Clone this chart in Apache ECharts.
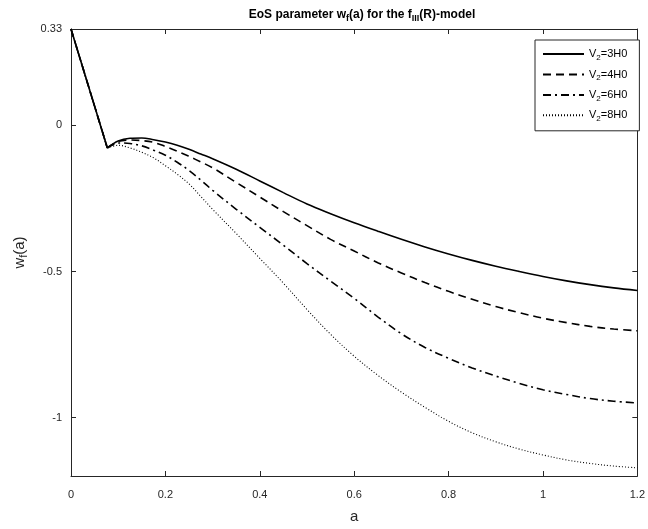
<!DOCTYPE html>
<html>
<head>
<meta charset="utf-8">
<script src="https://cdn.jsdelivr.net/npm/echarts@6/dist/echarts.min.js"></script>
<style>
html,body{margin:0;padding:0;background:#fff;}
#chart{width:648px;height:529px;}
</style>
</head>
<body>
<div id="chart"></div>
<script>
var aValues = [0, 0.077, 0.1, 0.125, 0.15, 0.175, 0.2, 0.225, 0.25, 0.275, 0.3, 0.35, 0.4, 0.45, 0.5, 0.55, 0.6, 0.65, 0.7, 0.75, 0.8, 0.85, 0.9, 0.95, 1.0, 1.05, 1.1, 1.15, 1.2];
var w3H0 = [0.33, -0.077, -0.053, -0.044, -0.043, -0.049, -0.057, -0.068, -0.082, -0.098, -0.114, -0.15, -0.19, -0.23, -0.269, -0.302, -0.333, -0.362, -0.39, -0.416, -0.44, -0.462, -0.482, -0.5, -0.517, -0.532, -0.545, -0.556, -0.565];
var w4H0 = [0.33, -0.077, -0.055, -0.05, -0.052, -0.058, -0.072, -0.088, -0.106, -0.125, -0.145, -0.195, -0.245, -0.295, -0.343, -0.39, -0.43, -0.47, -0.505, -0.538, -0.568, -0.595, -0.62, -0.641, -0.66, -0.675, -0.688, -0.697, -0.703];
var w6H0 = [0.33, -0.077, -0.06, -0.062, -0.07, -0.085, -0.102, -0.126, -0.154, -0.187, -0.222, -0.287, -0.349, -0.41, -0.473, -0.533, -0.592, -0.655, -0.713, -0.76, -0.797, -0.83, -0.858, -0.883, -0.905, -0.921, -0.935, -0.944, -0.95];
var w8H0 = [0.33, -0.077, -0.068, -0.077, -0.092, -0.111, -0.138, -0.167, -0.2, -0.243, -0.287, -0.37, -0.455, -0.54, -0.63, -0.715, -0.79, -0.855, -0.913, -0.965, -1.013, -1.052, -1.083, -1.108, -1.128, -1.145, -1.157, -1.166, -1.172];
var seriesNames = ['V2=3H0', 'V2=4H0', 'V2=6H0', 'V2=8H0'];
var xTicks = [0, 0.2, 0.4, 0.6, 0.8, 1, 1.2];
var yTicks = [0.33, 0, -0.5, -1];

function pairs(ys, from, to){
  var out = [];
  for (var i = from; i < to; i++) out.push([aValues[i], ys[i]]);
  return out;
}

var chart = echarts.init(document.getElementById('chart'));
var axisCol = '#262626';
var font = 'Liberation Sans, Arial, sans-serif';
var styles = [
  {type:'solid', width:1.6},
  {type:[8,5], width:1.6},
  {type:[8,4,2,4], width:1.6},
  {type:[1,2], width:1.1}
];
var data = [w3H0, w4H0, w6H0, w8H0];

var baseX = {
  type:'value', min:0, max:1.2,
  axisLine:{show:true, onZero:false, lineStyle:{color:axisCol, width:1}},
  axisTick:{show:true, inside:true, length:5, customValues:xTicks, lineStyle:{color:axisCol}},
  splitLine:{show:false}
};
var baseY = {
  type:'value', min:-1.2, max:0.33,
  axisLine:{show:true, onZero:false, lineStyle:{color:axisCol, width:1}},
  axisTick:{show:true, inside:true, length:5, customValues:yTicks, lineStyle:{color:axisCol}},
  splitLine:{show:false}
};

var series = [];
seriesNames.forEach(function(n,i){
  var ls = {color:'#000', type:styles[i].type, width:styles[i].width};
  // straight initial drop (0 -> kink)
  series.push({
    name:n + ' start', type:'line', data:pairs(data[i], 0, 2), symbol:'none',
    z:10 - i, lineStyle:ls, itemStyle:{color:'#000'}, legendHoverLink:false
  });
  // smooth curve after the kink
  series.push({
    name:n, type:'line', data:pairs(data[i], 1, aValues.length), symbol:'none',
    smooth:0.35, z:10 - i, lineStyle:ls, itemStyle:{color:'#000'}
  });
});

chart.setOption({
  animation:false,
  backgroundColor:'#fff',
  title:{
    text:'{b|EoS parameter w}{s|f}{b|(a) for the f}{s|III}{b|(R)-model}',
    left:357, top:1, textAlign:'center',
    textStyle:{
      rich:{
        b:{fontFamily:font, fontSize:12, fontWeight:'bold', color:'#000'},
        s:{fontFamily:font, fontSize:9, fontWeight:'bold', color:'#000', padding:[8,0,0,0]}
      }
    }
  },
  grid:{left:71, right:4, top:29, bottom:48, containLabel:false},
  legend:{
    orient:'vertical', left:535, top:40,
    padding:[8.5,12,8,7], itemGap:7.3, itemWidth:41, itemHeight:14,
    borderColor:'#262626', borderWidth:1, backgroundColor:'#fff',
    data:seriesNames.map(function(n){ return {name:n, itemStyle:{opacity:0}}; }),
    formatter:function(n){ return 'V{s|2}' + n.slice(2); },
    textStyle:{fontFamily:font, fontSize:11, color:'#000',
      rich:{s:{fontFamily:font, fontSize:8, color:'#000', padding:[7,0,0,0]}}}
  },
  xAxis:[
    Object.assign({}, baseX, {
      position:'bottom',
      name:'a', nameLocation:'middle', nameGap:33,
      nameTextStyle:{fontFamily:font, fontSize:15, color:axisCol},
      axisLabel:{show:true, customValues:xTicks, fontFamily:font, fontSize:11, color:axisCol, margin:13,
        formatter:function(v){ return String(+v.toFixed(2)); }}
    }),
    Object.assign({}, baseX, {position:'top', axisLabel:{show:false}})
  ],
  yAxis:[
    Object.assign({}, baseY, {
      position:'left',
      name:'{m|w}{s|f}{m|(a)}', nameLocation:'middle', nameGap:40, nameRotate:90,
      nameTextStyle:{rich:{
        m:{fontFamily:font, fontSize:15, color:axisCol},
        s:{fontFamily:font, fontSize:11, color:axisCol, padding:[9,0,0,0]}
      }},
      axisLabel:{show:true, customValues:yTicks, fontFamily:font, fontSize:11, color:axisCol, margin:9,
        formatter:function(v){ return String(+v.toFixed(2)); }}
    }),
    Object.assign({}, baseY, {position:'right', axisLabel:{show:false}})
  ],
  series: series
});
</script>
</body>
</html>
